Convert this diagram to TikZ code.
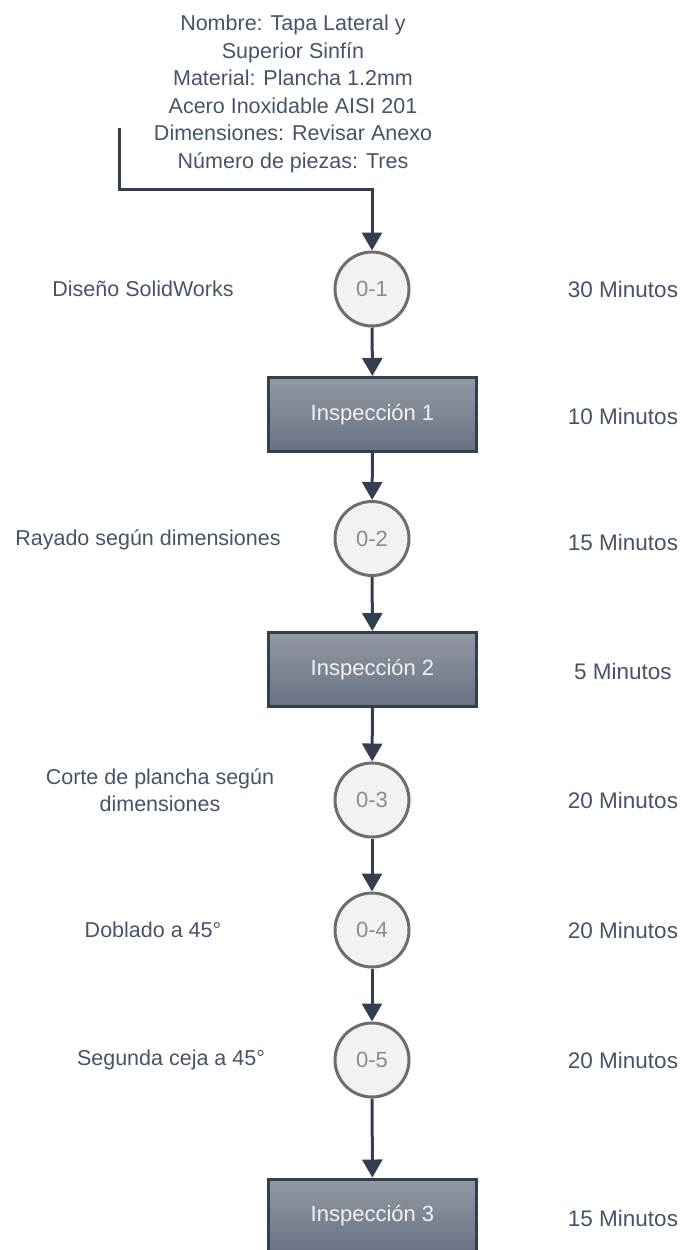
\documentclass[tikz,border=0pt]{standalone}
\usepackage{fontspec}
\setmainfont{Liberation Sans}
\usetikzlibrary{arrows.meta,shadings}
\definecolor{txt}{HTML}{44546A}
\definecolor{flow}{HTML}{323F50}
\definecolor{ringgray}{HTML}{6D6D6D}
\definecolor{opfill}{HTML}{F2F2F2}
\definecolor{optext}{HTML}{8C8C8C}
\definecolor{boxtop}{HTML}{9299A3}
\definecolor{boxbot}{HTML}{687281}
\definecolor{boxtext}{HTML}{F2F2F2}
\tikzset{
  lbl/.style={text=txt, font=\fontsize{21.5}{27.5}\selectfont, align=center, inner sep=0pt},
  timelbl/.style={text=txt, font=\fontsize{22.5}{27}\selectfont, inner sep=0pt},
  opnode/.style={circle, draw=ringgray, line width=3pt, fill=opfill, minimum size=74pt,
    inner sep=0pt, text=optext, font=\fontsize{22}{26}\selectfont},
  inspnode/.style={rectangle, draw=flow, line width=3pt, top color=boxtop, bottom color=boxbot,
    minimum width=208pt, minimum height=74pt, inner sep=0pt, text=boxtext,
    font=\fontsize{22}{26}\selectfont},
  flowline/.style={draw=flow, line width=3pt, -{Triangle[width=20pt,length=18pt]}}
}
\begin{document}
\begin{tikzpicture}[x=1pt,y=-1pt]
\useasboundingbox (0,0) rectangle (686,1250);
\begin{scope}
\clip (0,0) rectangle (686,1250);

% header with part data
\node[lbl] (head) at (293,94) {Nombre: Tapa Lateral y\\Superior Sinfín\\Material: Plancha 1.2mm\\Acero Inoxidable AISI 201\\Dimensiones: Revisar Anexo\\Número de piezas: Tres};

% process chain
\node[opnode] (c1) at (372,289) {0-1};
\node[inspnode] (b1) at (372.5,414.5) {Inspección 1};
\node[opnode] (c2) at (372,538.5) {0-2};
\node[inspnode] (b2) at (372.5,669.5) {Inspección 2};
\node[opnode] (c3) at (372,800) {0-3};
\node[opnode] (c4) at (372,930) {0-4};
\node[opnode] (c5) at (372,1060) {0-5};
\node[inspnode] (b3) at (372.5,1216) {Inspección 3};

% input connector
\coordinate (src) at (119,128);
\coordinate (bend) at (372,189);
\draw[flowline] (src) |- (bend) -- (c1);

\draw[flowline] (c1) -- (b1);
\draw[flowline] (b1) -- (c2);
\draw[flowline] (c2) -- (b2);
\draw[flowline] (b2) -- (c3);
\draw[flowline] (c3) -- (c4);
\draw[flowline] (c4) -- (c5);
\draw[flowline] (c5) -- (b3);

% activity descriptions
\node[lbl] (d1) at (143,289) {Diseño SolidWorks};
\node[lbl] (d2) at (148,540) {Rayado según dimensiones};
\node[lbl] (d3) at (160,790) {Corte de plancha según\\dimensiones};
\node[lbl] (d4) at (153,930) {Doblado a 45°};
\node[lbl] (d5) at (171,1060) {Segunda ceja a 45°};

% durations
\node[timelbl] (t1) at (623,289) {30 Minutos};
\node[timelbl] (t2) at (623,416) {10 Minutos};
\node[timelbl] (t3) at (623,542) {15 Minutos};
\node[timelbl] (t4) at (623,671) {5 Minutos};
\node[timelbl] (t5) at (623,800) {20 Minutos};
\node[timelbl] (t6) at (623,930) {20 Minutos};
\node[timelbl] (t7) at (623,1060) {20 Minutos};
\node[timelbl] (t8) at (623,1218) {15 Minutos};
\end{scope}
\end{tikzpicture}
\end{document}
